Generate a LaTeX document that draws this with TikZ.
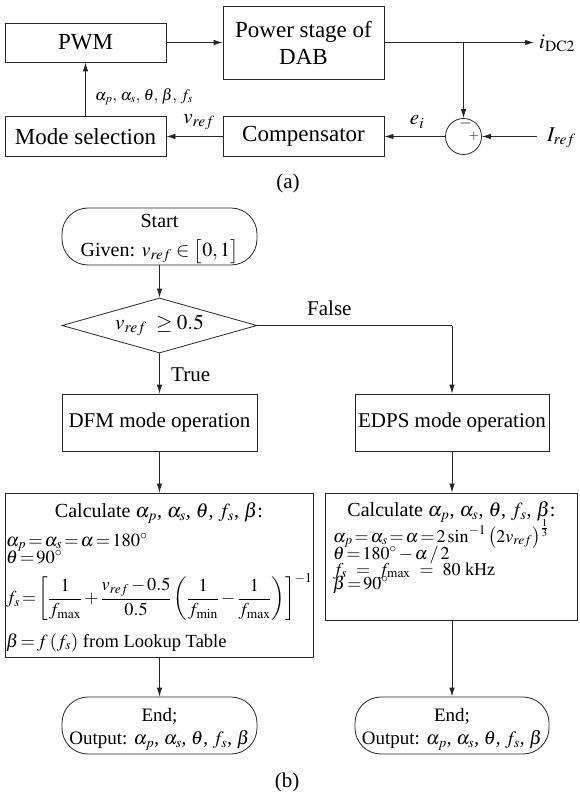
\documentclass[tikz,border=0pt]{standalone}
\usepackage{mathptmx}
\usepackage[no-math]{fontspec}
\setmainfont{Liberation Serif}
\usetikzlibrary{arrows.meta,shapes.geometric}
\newcommand{\tightmath}{\thickmuskip=2mu\relax\medmuskip=2mu\relax}
\newcommand{\widemath}{\thickmuskip=9mu\relax\medmuskip=2mu\relax}
\begin{document}
\begin{tikzpicture}[x=1pt,y=-1pt,
  ln/.style={line width=0.8pt,draw=black!85},
  arr/.style={ln,-{Latex[length=9pt,width=5.5pt]}},
  blk/.style={ln,rectangle,inner sep=0pt,minimum width=161pt,font=\fontsize{23}{27}\selectfont,align=center},
  fbox/.style={ln,rectangle,inner sep=0pt,minimum width=195pt,minimum height=57pt,font=\fontsize{21}{24}\selectfont},
  term/.style={ln,rectangle,rounded corners=26pt,inner sep=0pt,minimum width=195pt,minimum height=57pt,font=\fontsize{19}{23}\selectfont,align=center},
  lbl/.style={inner sep=0pt,font=\fontsize{21}{24}\selectfont},
  slbl/.style={inner sep=0pt,font=\fontsize{16}{20}\selectfont},
  ttl/.style={inner sep=0pt,font=\fontsize{20}{22}\selectfont},
  cm/.style={inner sep=0pt,font=\fontsize{#1}{#1}\selectfont},
  cbox/.style={ln,rectangle,inner sep=0pt}
]
\useasboundingbox (0,0) rectangle (579,794);

% ---------- (a) ----------
\node[blk,minimum height=39pt] (pwm) at (85.5,42.5) {PWM};
\node[blk,minimum height=73pt] (power) at (303.5,42.5) {Power stage of\\DAB};
\node[blk,minimum height=40pt] (mode) at (85.5,136.5) {Mode selection};
\node[blk,minimum height=40pt] (comp) at (303.5,136.5) {Compensator};
\node[ln,circle,minimum size=36pt,inner sep=0pt] (sum) at (463.5,136.5) {};
\node[inner sep=0pt,font=\fontsize{16}{16}\selectfont] (minus) at (465.5,124) {$-$};
\node[inner sep=0pt,font=\fontsize{13}{13}\selectfont] (plus) at (474,136) {$+$};

\coordinate (jn) at (463.5,42.5);
\coordinate (out) at (534,42.5);
\coordinate (iin) at (537,136.5);

\draw[arr] (pwm.east) -- (power.west);
\draw[arr] (power.east) -- (out);
\draw[arr] (jn) -- (sum.north);
\draw[arr] (iin) -- (sum.east);
\draw[arr] (sum.west) -- (comp.east);
\draw[arr] (comp.west) -- (mode.east);
\draw[arr] (mode.north) -- (pwm.south);

\node[lbl,anchor=west] (idc) at (539,43) {$i_{\mathrm{DC2}}$};
\node[lbl,anchor=west] (iref) at (547,138) {$I_{ref}$};
\node[lbl] (ei) at (417,122) {$e_i$};
\node[lbl] (vref) at (199,122) {$v_{ref}$};
\node[slbl,anchor=west] (params) at (95,97) {$\alpha_p,\,\alpha_s,\,\theta,\,\beta,\,f_s$};
\node[lbl] (capa) at (288,183) {(a)};

% ---------- (b) ----------
\node[term,font=\fontsize{20}{22}\selectfont] (start) at (159.5,236.5) {\rule{0pt}{18pt}Start\\[7pt]Given: $v_{ref}\in\bigl[0,1\bigr]$};
\node[ln,diamond,aspect=3.5,minimum width=195pt,minimum height=55pt,inner sep=0pt,font=\fontsize{21}{24}\selectfont] (dec) at (159.5,325.5) {$v_{ref}\;\geq 0.5$};
\node[fbox] (dfm) at (159.5,422.5) {DFM mode operation};
\node[fbox,minimum width=194pt] (edps) at (452,422.5) {EDPS mode operation};
\node[cbox,minimum width=308pt,minimum height=164pt] (calcL) at (159,575) {};
\node[cbox,minimum width=252pt,minimum height=127pt] (calcR) at (451,556.5) {};
\node[term] (endL) at (159.5,725.5) {\rule{0pt}{21pt}End;\\Output: $\alpha_p$, $\alpha_s$, $\theta$, $f_s$, $\beta$};
\node[term,minimum width=194pt] (endR) at (452,725.5) {\rule{0pt}{21pt}End;\\Output: $\alpha_p$, $\alpha_s$, $\theta$, $f_s$, $\beta$};

\coordinate (fc) at (452,325.5);
\draw[arr] (start.south) -- (dec.north);
\draw[arr] (dec.south) -- (dfm.north);
\draw[ln] (dec.east) -- (fc);
\draw[arr] (fc) -- (edps.north);
\draw[arr] (dfm.south) -- (dfm.south |- calcL.north);
\draw[arr] (edps.south) -- (edps.south |- calcR.north);
\draw[arr] (calcL.south -| endL.north) -- (endL.north);
\draw[arr] (calcR.south -| endR.north) -- (endR.north);

\node[lbl,anchor=west] (true) at (171,375) {True};
\node[lbl,anchor=west] (false) at (307,308) {False};

% left calc contents
\node[ttl,anchor=base] (lt) at (159,517) {Calculate $\alpha_p$, $\alpha_s$, $\theta$, $f_s$, $\beta$:};
\node[cm=18.5,anchor=base west] (l1) at (6,546) {\tightmath$\alpha_p=\alpha_s=\alpha=180^\circ$};
\node[cm=18.5,anchor=base west] (l2) at (6,563) {\tightmath$\theta=90^\circ$};
\node[cm=18.2,anchor=west] (l3) at (6,597) {\tightmath$\displaystyle f_s=\left[\frac{1}{f_{\max}}+\frac{v_{ref}-0.5}{0.5}\left(\frac{1}{f_{\min}}-\frac{1}{f_{\max}}\right)\right]^{-1}$};
\node[cm=18.5,anchor=base west] (l4) at (6,647) {\tightmath$\beta=f\left(f_s\right)$ from Lookup Table};

% right calc contents
\node[ttl,anchor=base] (rt) at (451.5,516) {Calculate $\alpha_p$, $\alpha_s$, $\theta$, $f_s$, $\beta$:};
\node[cm=18,anchor=base west] (r1) at (333,542) {\tightmath$\alpha_p=\alpha_s=\alpha=2\sin^{-1}\left(2v_{ref}\right)^{\frac{1}{3}}$};
\node[cm=18,anchor=base west] (r2) at (333,559) {\tightmath$\theta=180^\circ-\alpha\,/\,2$};
\node[cm=18,anchor=base west] (r3) at (333,575) {\widemath$f_s=f_{\max}=80$ kHz};
\node[cm=18,anchor=base west] (r4) at (333,589) {\tightmath$\beta=90^\circ$};

\node[lbl] (capb) at (287,782) {(b)};
\end{tikzpicture}
\end{document}
